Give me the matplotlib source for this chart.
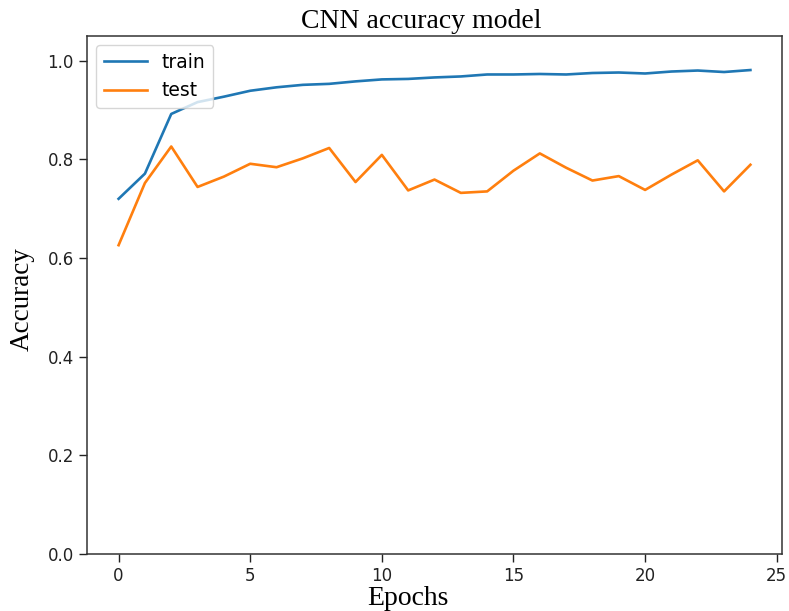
import matplotlib
matplotlib.use('Agg')
import matplotlib.pyplot as plt
import numpy as np

# accuracy per epoch
epochs = np.arange(25)
train_acc = [0.720, 0.771, 0.892, 0.916, 0.927, 0.939, 0.946, 0.951, 0.953, 0.958,
             0.962, 0.963, 0.966, 0.968, 0.972, 0.972, 0.973, 0.972, 0.975, 0.976,
             0.974, 0.978, 0.980, 0.977, 0.981]
test_acc = [0.626, 0.752, 0.826, 0.744, 0.765, 0.791, 0.784, 0.802, 0.823, 0.754,
            0.809, 0.737, 0.759, 0.732, 0.735, 0.777, 0.812, 0.783, 0.757, 0.766,
            0.738, 0.769, 0.798, 0.735, 0.789]
yticks = [0.0, 0.2, 0.4, 0.6, 0.8, 1.0]
xticks = [0, 5, 10, 15, 20, 25]

plt.rcParams['font.family'] = ['DejaVu Sans']

fig = plt.figure(figsize=(7.89, 6.11), dpi=100)
fig.subplots_adjust(left=87/789, right=782/789, bottom=1 - 554/611, top=1 - 36/611)
ax = fig.add_subplot(111)

ax.plot(epochs, train_acc, color='#1f77b4', linewidth=1.9, label='train')
ax.plot(epochs, test_acc, color='#ff7f0e', linewidth=1.9, label='test')

ax.set_ylim(0, 1.05)
ax.set_yticks(yticks)
ax.set_xticks(xticks)
ax.tick_params(labelsize=12, length=6, width=1.0, colors='#222222')
for sp in ax.spines.values():
    sp.set_linewidth(1.1)
    sp.set_color('#333333')

ax.legend(loc='upper left', fontsize=13.5, handlelength=2.3)

serif = ['Liberation Serif', 'DejaVu Serif']
fig.text(421/789, 1 - 28.5/611, 'CNN accuracy model', family=serif, fontsize=20,
         ha='center', va='baseline')
ax.set_xlabel('Epochs', family=serif, fontsize=20)
ax.xaxis.set_label_coords(0.462, -0.062)
ax.set_ylabel('Accuracy', family=serif, fontsize=19.5)
ax.yaxis.set_label_coords(-0.075, 0.492)

plt.savefig('out.png', dpi=100)
